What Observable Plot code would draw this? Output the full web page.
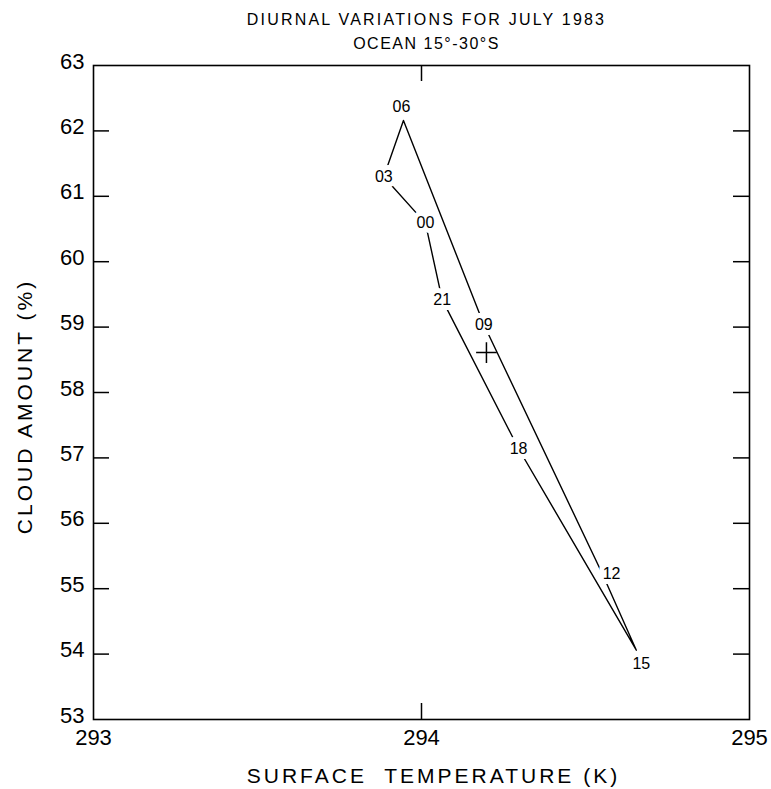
<!DOCTYPE html>
<html><head><meta charset="utf-8">
<script src="https://cdn.jsdelivr.net/npm/d3@7"></script>
<script src="https://cdn.jsdelivr.net/npm/@observablehq/plot@0.6"></script>
<style>
  body { margin: 0; background: #fff; }
  svg { font-family: "Liberation Sans", Arial, sans-serif; }
</style>
</head><body><div id="chart"></div>
<script>
// Local hour labels (UTC) in cycle order
const hours = ["00", "03", "06", "09", "12", "15", "18", "21"];
// Surface temperature (K) for each hour
const temperature = [294.012, 293.885, 293.945, 294.19, 294.552, 294.655, 294.296, 294.063];
// Cloud amount (%) for each hour
const cloud = [60.59, 61.30, 62.16, 59.04, 55.22, 54.06, 57.14, 59.42];
// Daily mean (plus sign)
const meanTemperature = [294.198];
const meanCloud = [58.61];
// Axis ticks
const xTicks = [293, 294, 295];
const yTicks = [53, 54, 55, 56, 57, 58, 59, 60, 61, 62, 63];
const innerYTicks = [54, 55, 56, 57, 58, 59, 60, 61, 62];
const innerXTicks = [294];
// Texts
const title = "DIURNAL VARIATIONS FOR JULY 1983";
const subtitle = "OCEAN 15°-30°S";
const xLabel = "SURFACE  TEMPERATURE (K)";
const yLabel = "CLOUD AMOUNT (%)";

const points = hours.map((h, i) => ({hour: h, t: temperature[i], c: cloud[i]}));
const loop = [...points, points[0]];
const mean = meanTemperature.map((t, i) => ({t, c: meanCloud[i]}));
// label placement tweaks (pixels) for labels not centred on their point
const labelOffset = {"06": [-2, -14], "15": [5, 14], "12": [9, 0]};
const haloHours = new Set(["00", "03", "09", "12", "18", "21"]);

const W = 771, H = 789;
const mL = 93, mR = 22, mT = 65, mB = 70;
const fw = W - mL - mR, fh = H - mT - mB;
const tickLen = 16;

const labelMark = (h) => {
  const [dx, dy] = labelOffset[h] || [0, 0];
  const halo = haloHours.has(h);
  return Plot.text(points.filter(d => d.hour === h), {
    x: "t", y: "c", text: "hour", fontSize: 16, fill: "black", dx, dy,
    ...(halo ? {stroke: "white", strokeWidth: 10, paintOrder: "stroke"} : {})
  });
};

const chart = Plot.plot({
  width: W,
  height: H,
  marginLeft: mL, marginRight: mR, marginTop: mT, marginBottom: mB,
  style: {fontSize: "20px", fontFamily: "Liberation Sans, Arial, sans-serif", color: "black", background: "white"},
  x: {domain: [293, 295], axis: null},
  y: {domain: [53, 63], axis: null},
  marks: [
    Plot.axisY(yTicks, {tickSize: 0, tickPadding: 9, dy: -4, label: null, fontSize: 22, tickFormat: d => String(d)}),
    Plot.axisX(xTicks, {tickSize: 0, tickPadding: 10, label: null, fontSize: 22, tickFormat: d => String(d)}),
    Plot.tickY(innerYTicks, {y: d => d, insetRight: fw - tickLen, stroke: "black", strokeWidth: 1.5}),
    Plot.tickY(innerYTicks, {y: d => d, insetLeft: fw - tickLen, stroke: "black", strokeWidth: 1.5}),
    Plot.tickX(innerXTicks, {x: d => d, insetBottom: fh - tickLen, stroke: "black", strokeWidth: 1.5}),
    Plot.tickX(innerXTicks, {x: d => d, insetTop: fh - tickLen, stroke: "black", strokeWidth: 1.5}),
    Plot.frame({stroke: "black", strokeWidth: 1.6}),
    Plot.line(loop, {x: "t", y: "c", stroke: "black", strokeWidth: 1.4, curve: "linear"}),
    ...hours.map(labelMark),
    Plot.dot(mean, {x: "t", y: "c", symbol: "plus", r: 6.7, stroke: "black", strokeWidth: 1.5}),
    Plot.text([title], {frameAnchor: "top", lineAnchor: "middle", dx: 5, dy: -46, fontSize: 16, fill: "black"}),
    Plot.text([subtitle], {frameAnchor: "top", lineAnchor: "middle", dx: 5, dy: -22, fontSize: 16, fill: "black"}),
    Plot.text([xLabel], {frameAnchor: "bottom", lineAnchor: "middle", dx: 12, dy: 57, fontSize: 21, fill: "black"}),
    Plot.text([yLabel], {frameAnchor: "left", textAnchor: "middle", lineAnchor: "middle", dx: -68, dy: 14, rotate: -90, fontSize: 21, fill: "black"})
  ]
});

const spacing = new Map([[title, "2.2px"], [subtitle, "1.5px"], [xLabel, "3px"], [yLabel, "3px"]]);
d3.select(chart).selectAll("text").each(function() {
  const s = spacing.get(this.textContent);
  if (s) this.setAttribute("letter-spacing", s);
  if (this.textContent === xLabel) this.style.whiteSpace = "pre";
});

document.getElementById("chart").appendChild(chart);
</script>
</body></html>
